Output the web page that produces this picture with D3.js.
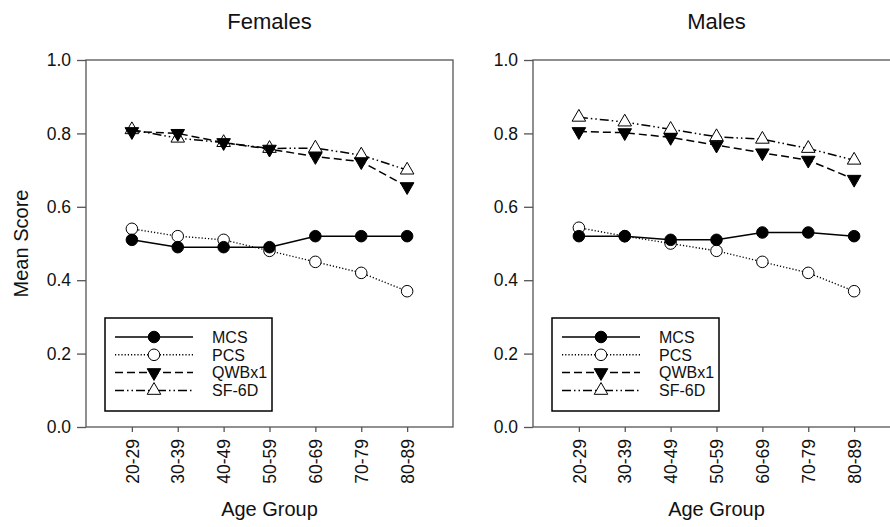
<!DOCTYPE html>
<html>
<head>
<meta charset="utf-8">
<script src="https://cdn.jsdelivr.net/npm/d3@7"></script>
<style>
  body { margin: 0; background: #fff; }
  text { font-family: "Liberation Sans", Arial, sans-serif; fill: #111; }
</style>
</head>
<body>
<svg id="chart" width="890" height="527"></svg>
<script>

// values
var ageGroups = ["20-29", "30-39", "40-49", "50-59", "60-69", "70-79", "80-89"];
var yTicks = [0.0, 0.2, 0.4, 0.6, 0.8, 1.0];
var seriesNames = ["MCS", "PCS", "QWBx1", "SF-6D"];

var femalesMCS   = [0.51, 0.49, 0.49, 0.49, 0.52, 0.52, 0.52];
var femalesPCS   = [0.54, 0.52, 0.51, 0.48, 0.45, 0.42, 0.37];
var femalesQWB   = [0.805, 0.80, 0.775, 0.757, 0.737, 0.723, 0.655];
var femalesSF6D  = [0.81, 0.787, 0.775, 0.759, 0.760, 0.741, 0.70];

var malesMCS   = [0.52, 0.52, 0.51, 0.51, 0.53, 0.53, 0.52];
var malesPCS   = [0.543, 0.52, 0.50, 0.48, 0.45, 0.42, 0.37];
var malesQWB   = [0.805, 0.802, 0.789, 0.768, 0.747, 0.727, 0.675];
var malesSF6D  = [0.844, 0.831, 0.811, 0.791, 0.784, 0.759, 0.727];

var svg = d3.select("#chart");

var plotTop = 60, plotBottom = 427, plotW = 367;
var axisColor = "#555";
var fontFam = "Liberation Sans, Arial, sans-serif";

// line style per series
var styles = [
  { dash: null,              symbol: d3.symbolCircle,   size: 105, fill: "#000", rot: 0 },
  { dash: "1.2,2",           symbol: d3.symbolCircle,   size: 105, fill: "#fff", rot: 0 },
  { dash: "8,4",             symbol: d3.symbolTriangle, size: 80,  fill: "#000", rot: 180 },
  { dash: "9,3,1.5,3,1.5,3", symbol: d3.symbolTriangle, size: 80,  fill: "#fff", rot: 0 }
];

var panels = [
  { title: "Females", left: 86,  series: [femalesMCS, femalesPCS, femalesQWB, femalesSF6D], ylabel: true },
  { title: "Males",   left: 533, series: [malesMCS, malesPCS, malesQWB, malesSF6D], ylabel: false }
];

panels.forEach(function(p){
  var x = d3.scaleLinear().domain([0, 8]).range([p.left, p.left + plotW]);
  var y = d3.scaleLinear().domain([0, 1]).range([plotBottom, plotTop]);
  var g = svg.append("g");

  // frame
  g.append("rect")
    .attr("x", p.left).attr("y", plotTop)
    .attr("width", plotW).attr("height", plotBottom - plotTop)
    .attr("fill", "none").attr("stroke", axisColor).attr("stroke-width", 1.3);

  // y axis
  var yAxis = g.append("g")
    .attr("transform", `translate(${p.left},0)`)
    .call(d3.axisLeft(y).tickValues(yTicks).tickFormat(d3.format(".1f")).tickSize(9).tickPadding(6));
  yAxis.select(".domain").remove();
  yAxis.selectAll("line").attr("stroke", axisColor).attr("stroke-width", 1.3);
  yAxis.selectAll("text").attr("font-size", 17.5).attr("font-family", fontFam).attr("fill", "#111");

  // x axis
  var xAxis = g.append("g")
    .attr("transform", `translate(0,${plotBottom})`)
    .call(d3.axisBottom(x).tickValues(d3.range(1, 8)).tickFormat(d => ageGroups[d - 1]).tickSize(5));
  xAxis.select(".domain").remove();
  xAxis.selectAll("line").attr("stroke", axisColor).attr("stroke-width", 1.3);
  xAxis.selectAll("text")
    .attr("font-size", 17.5).attr("font-family", fontFam).attr("fill", "#111")
    .attr("text-anchor", "end")
    .attr("transform", "rotate(-90)")
    .attr("x", -12).attr("y", 0).attr("dy", "0.35em");

  // titles
  g.append("text")
    .attr("x", p.left + plotW / 2).attr("y", 29)
    .attr("text-anchor", "middle").attr("font-size", 22)
    .text(p.title);

  g.append("text")
    .attr("x", p.left + plotW / 2).attr("y", 516)
    .attr("text-anchor", "middle").attr("font-size", 20)
    .text("Age Group");

  if(p.ylabel){
    g.append("text")
      .attr("transform", `translate(28,${(plotTop + plotBottom) / 2}) rotate(-90)`)
      .attr("text-anchor", "middle").attr("font-size", 20)
      .text("Mean Score");
  }

  var line = d3.line().x((d, i) => x(i + 1)).y(d => y(d));

  // lines first, then markers on top (reverse order so MCS ends up topmost)
  p.series.forEach(function(vals, k){
    var st = styles[k];
    g.append("path")
      .datum(vals)
      .attr("d", line)
      .attr("fill", "none")
      .attr("stroke", "#000")
      .attr("stroke-width", k == 1 ? 1.4 : 1.5)
      .attr("stroke-dasharray", st.dash);
  });
  p.series.slice().reverse().forEach(function(vals, rk){
    var k = p.series.length - 1 - rk;
    var st = styles[k];
    g.selectAll(null)
      .data(vals)
      .enter()
      .append("path")
      .attr("d", d3.symbol().type(st.symbol).size(st.size))
      .attr("transform", (d, i) => `translate(${x(i + 1)},${y(d)}) rotate(${st.rot})`)
      .attr("fill", st.fill)
      .attr("stroke", "#000")
      .attr("stroke-width", 1);
  });

  // legend
  var lx = p.left + 19, ly = 318;
  var lg = g.append("g").attr("transform", `translate(${lx},${ly})`);
  lg.append("rect")
    .attr("width", 167).attr("height", 93)
    .attr("fill", "#fff").attr("stroke", "#000").attr("stroke-width", 1.5);
  seriesNames.forEach(function(name, k){
    var st = styles[k];
    var ry = 19 + k * 17.8;
    lg.append("line")
      .attr("x1", 10).attr("x2", 88).attr("y1", ry).attr("y2", ry)
      .attr("stroke", "#000").attr("stroke-width", 1.5)
      .attr("stroke-dasharray", st.dash);
    lg.append("path")
      .attr("d", d3.symbol().type(st.symbol).size(st.size))
      .attr("transform", `translate(49,${ry}) rotate(${st.rot})`)
      .attr("fill", st.fill).attr("stroke", "#000").attr("stroke-width", 1);
    lg.append("text")
      .attr("x", 107).attr("y", ry).attr("dy", "0.36em")
      .attr("font-size", 16)
      .text(name);
  });
});

</script>
</body>
</html>
